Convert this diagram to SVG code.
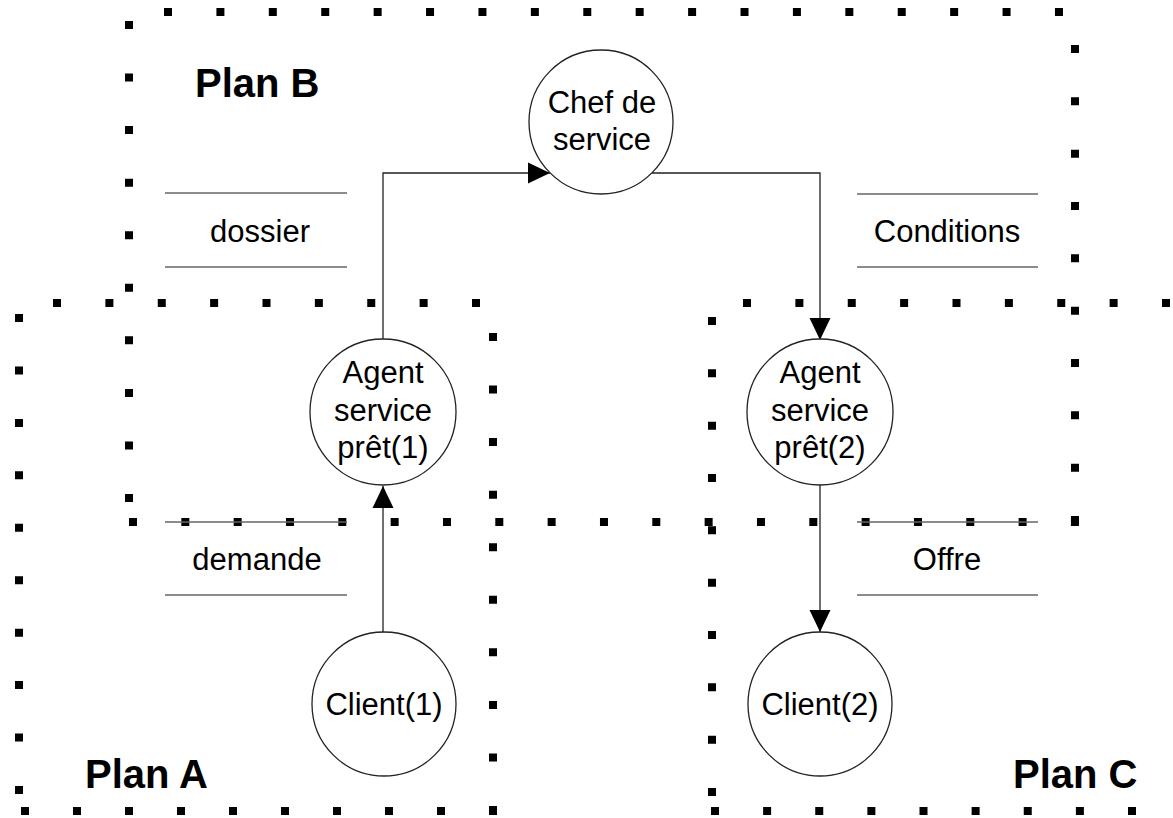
<svg xmlns="http://www.w3.org/2000/svg" width="1173" height="818" viewBox="0 0 1173 818">
  <style>
    .dots { stroke: #000; stroke-width: 8; fill: none; }
    .store { stroke: #666; stroke-width: 1.5; }
    .node { fill: #fff; stroke: #222; stroke-width: 1.3; }
    .label { font-family: "Liberation Sans", Arial, sans-serif; font-size: 31px; fill: #000; text-anchor: middle; }
    .plan { font-family: "Liberation Sans", Arial, sans-serif; font-size: 40px; font-weight: bold; fill: #000; }
    .link { stroke: #222; stroke-width: 1.3; fill: none; }
  </style>
  <defs>
    <marker id="arrow" markerUnits="userSpaceOnUse" markerWidth="22" markerHeight="22" viewBox="0 0 22 22" refX="22" refY="11" orient="auto">
      <path d="M0,0.5 L22,11 L0,21.5 Z" fill="#000"/>
    </marker>
  </defs>

  <rect width="1173" height="818" fill="#fff"/>

  <!-- Plan B boundary -->
  <g id="plan-b">
    <path class="dots" d="M164,12 H1063" style="stroke-dasharray:8 44.41"/>
    <path class="dots" d="M129,21 V502" style="stroke-dasharray:8 44.56"/>
    <path class="dots" d="M1075,45 V524" style="stroke-dasharray:8 44.33"/>
    <path class="dots" d="M129,522 H1079" style="stroke-dasharray:8 44.33"/>
    <text class="plan" x="195" y="97">Plan B</text>
  </g>

  <!-- Plan A boundary -->
  <g id="plan-a">
    <path class="dots" d="M53,303 H480" style="stroke-dasharray:8 44.375"/>
    <path class="dots" d="M19,314 V794" style="stroke-dasharray:8 44.44"/>
    <path class="dots" d="M493,333 V814" style="stroke-dasharray:8 44.56"/>
    <path class="dots" d="M21,811 H497" style="stroke-dasharray:8 44"/>
    <text class="plan" x="85" y="788">Plan A</text>
  </g>

  <!-- Plan C boundary -->
  <g id="plan-c">
    <path class="dots" d="M743,303 H1170" style="stroke-dasharray:8 44.375"/>
    <path class="dots" d="M712,317 V796" style="stroke-dasharray:8 44.33"/>
    <path class="dots" d="M711,811 H1136" style="stroke-dasharray:8 44.125"/>
    <text class="plan" x="1013" y="788">Plan C</text>
  </g>

  <!-- Data stores -->
  <g id="store-dossier">
    <line class="store" x1="165" y1="193" x2="347" y2="193"/>
    <line class="store" x1="165" y1="267" x2="347" y2="267"/>
    <text class="label" x="260" y="242">dossier</text>
  </g>
  <g id="store-conditions">
    <line class="store" x1="857" y1="194" x2="1038" y2="194"/>
    <line class="store" x1="857" y1="267" x2="1038" y2="267"/>
    <text class="label" x="947" y="242">Conditions</text>
  </g>
  <g id="store-demande">
    <line class="store" x1="165" y1="522" x2="347" y2="522"/>
    <line class="store" x1="165" y1="595" x2="347" y2="595"/>
    <text class="label" x="257" y="570">demande</text>
  </g>
  <g id="store-offre">
    <line class="store" x1="857" y1="522" x2="1038" y2="522"/>
    <line class="store" x1="857" y1="595" x2="1038" y2="595"/>
    <text class="label" x="947" y="570">Offre</text>
  </g>

  <!-- Connectors -->
  <g id="connectors">
    <path class="link" d="M383,339 V173 H550" marker-end="url(#arrow)"/>
    <path class="link" d="M652,173 H820 V340" marker-end="url(#arrow)"/>
    <path class="link" d="M820,485 V632" marker-end="url(#arrow)"/>
    <path class="link" d="M383,632 V486" marker-end="url(#arrow)"/>
  </g>

  <!-- Process nodes -->
  <g id="chef-de-service">
    <circle class="node" cx="601" cy="122" r="72"/>
    <text class="label" x="602" y="113">Chef de</text>
    <text class="label" x="602" y="150">service</text>
  </g>
  <g id="agent-pret-1">
    <circle class="node" cx="383" cy="412" r="73"/>
    <text class="label" x="383" y="383">Agent</text>
    <text class="label" x="383" y="421">service</text>
    <text class="label" x="383" y="458">prêt(1)</text>
  </g>
  <g id="agent-pret-2">
    <circle class="node" cx="820" cy="412" r="73"/>
    <text class="label" x="820" y="383">Agent</text>
    <text class="label" x="820" y="421">service</text>
    <text class="label" x="820" y="458">prêt(2)</text>
  </g>
  <g id="client-1">
    <circle class="node" cx="384" cy="704" r="72"/>
    <text class="label" x="384" y="715">Client(1)</text>
  </g>
  <g id="client-2">
    <circle class="node" cx="820" cy="704" r="72"/>
    <text class="label" x="820" y="715">Client(2)</text>
  </g>
</svg>
